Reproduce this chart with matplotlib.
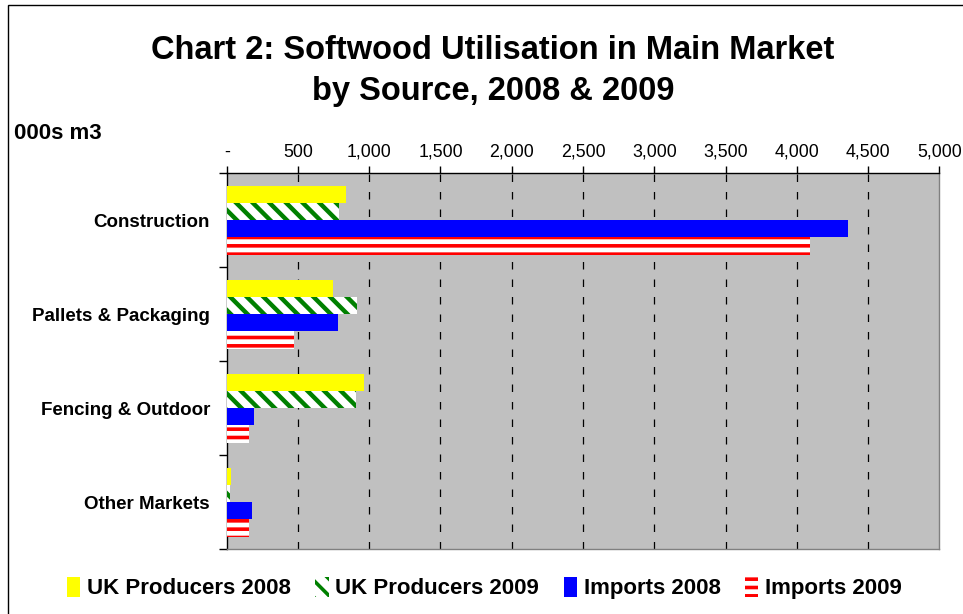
import numpy as np
import matplotlib.pyplot as plt
from matplotlib.patches import Patch, Rectangle
from matplotlib.ticker import FuncFormatter

plt.rcParams['font.family'] = ['Liberation Sans', 'DejaVu Sans']

# data (000s m3)
categories = ['Construction', 'Pallets & Packaging', 'Fencing & Outdoor', 'Other Markets']
uk_2008 = [835, 744, 963, 30]
uk_2009 = [788, 912, 907, 20]
imp_2008 = [4358, 779, 192, 175]
imp_2009 = [4093, 472, 157, 157]
series_names = ['UK Producers 2008', 'UK Producers 2009', 'Imports 2008', 'Imports 2009']

fig = plt.figure(figsize=(9.63, 6.14), dpi=100)
ax = fig.add_axes([0.2354, 0.1054, 0.74, 0.6124])
ax.set_facecolor('#c0c0c0')

y = np.arange(len(categories))
h = 0.183
styles = [
    dict(color='#ffff00', lw=0),
    dict(facecolor='white', edgecolor='#008000', hatch='\\\\', lw=0),
    dict(color='#0000ff', lw=0),
    dict(facecolor='white', edgecolor='#ff0000', hatch='--', lw=0),
]
hatch_lw = [1, 3.2, 1, 2.6]
all_vals = [uk_2008, uk_2009, imp_2008, imp_2009]
for i, (vals, st) in enumerate(zip(all_vals, styles)):
    plt.rcParams['hatch.linewidth'] = hatch_lw[i]
    bars = ax.barh(y + (i - 1.5) * h, vals, height=h, zorder=3, **st)
    for b in bars:
        if hasattr(b, 'set_hatch_linewidth'):
            b.set_hatch_linewidth(hatch_lw[i])

ax.set_xlim(0, 5000)
ax.set_ylim(3.5, -0.5)

# x axis on top
ax.xaxis.tick_top()
ax.set_xticks(np.arange(0, 5001, 500))
ax.xaxis.set_major_formatter(FuncFormatter(lambda v, p: '-' if v == 0 else '{:,.0f}'.format(v)))
ax.tick_params(axis='x', which='major', length=5, width=1, pad=4, labelsize=12.8, color='black')
for v in np.arange(500, 5000, 500):
    ax.axvline(v, color='black', lw=0.9, dashes=(6, 8), zorder=2)

# y ticks: marks between categories, labels at centres
ax.set_yticks(np.arange(-0.5, 3.6, 1))
ax.set_yticklabels([])
ax.set_yticks(y, minor=True)
ax.set_yticklabels(categories, minor=True, fontweight='bold', fontsize=13.5)
ax.tick_params(axis='y', which='major', length=6, width=1, color='black')
ax.tick_params(axis='y', which='minor', length=0, pad=12)

for s in ['top', 'left']:
    ax.spines[s].set_color('black')
    ax.spines[s].set_linewidth(1)
for s in ['right', 'bottom']:
    ax.spines[s].set_color('#808080')
    ax.spines[s].set_linewidth(1)

fig.text(0.512, 0.885, 'Chart 2: Softwood Utilisation in Main Market\nby Source, 2008 & 2009',
         ha='center', va='center', fontsize=23.5, fontweight='bold', linespacing=1.42)
fig.text(0.0145, 0.774, '000s m3', ha='left', va='baseline', fontsize=16, fontweight='bold')

handles = []
for st, name in zip(styles, series_names):
    handles.append(Patch(label=name, **st))
leg = fig.legend(handles=handles, loc='center', bbox_to_anchor=(0.503, 0.042), ncol=4,
                 frameon=False, handlelength=0.6, handleheight=1.0, handletextpad=0.3,
                 columnspacing=1.1, prop={'weight': 'bold', 'size': 16})

fig.patches.append(Rectangle((8 / 963, -0.1), 1.2, 1.1 - 5 / 614, transform=fig.transFigure,
                             fill=False, edgecolor='black', lw=1))

fig.savefig('out.png', dpi=100)
